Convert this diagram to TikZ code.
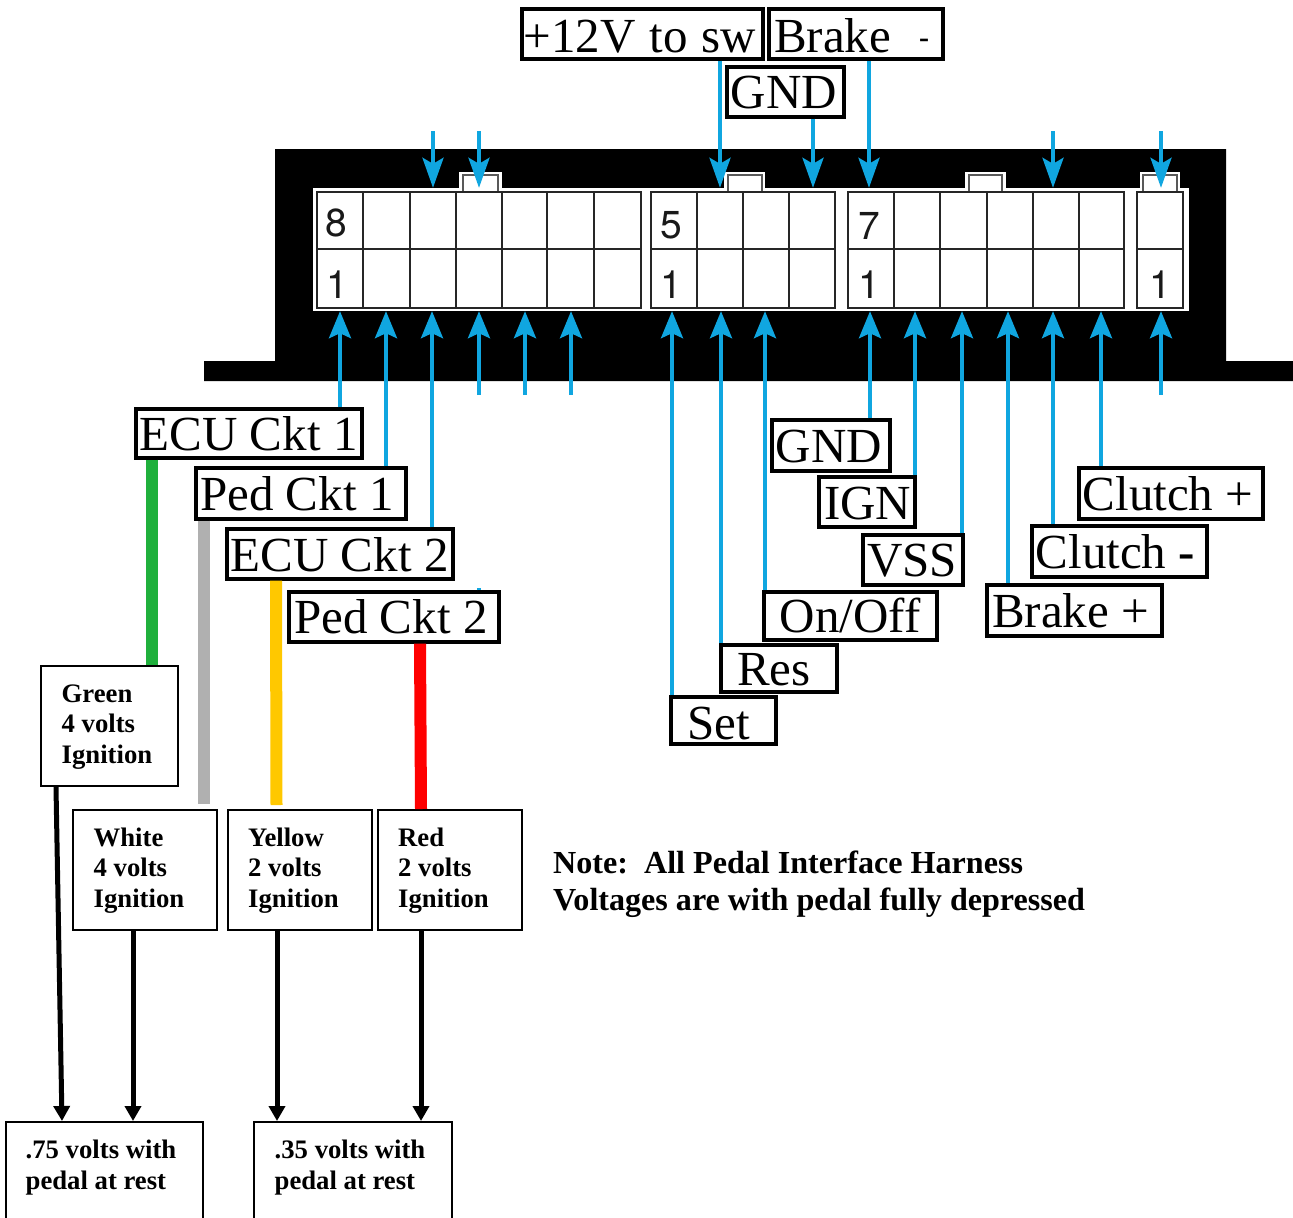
\documentclass[tikz,border=0pt]{standalone}
\usepackage{fontspec}
\setmainfont{Liberation Serif}
\newfontfamily\digitfont{TeX Gyre Heros}
\usetikzlibrary{arrows.meta}
\definecolor{wireblue}{HTML}{10A6E0}
\definecolor{wgreen}{HTML}{1FB03C}
\definecolor{wgray}{HTML}{B0B0B0}
\definecolor{wyellow}{HTML}{FFC800}
\definecolor{wred}{HTML}{FF0000}
\tikzset{
  lblbox/.style={draw=black,fill=white,line width=3.3pt,inner sep=0pt,rectangle},
  lbltext/.style={inner sep=0pt,font=\fontsize{49}{49}\selectfont,text=black},
  infobox/.style={draw=black,fill=white,line width=2pt,inner sep=0pt,rectangle},
  infotext/.style={inner sep=0pt,font=\fontsize{26.7}{30.7}\selectfont\bfseries,text=black},
  notetext/.style={inner sep=0pt,font=\fontsize{32.1}{37}\selectfont\bfseries,text=black},
  digit/.style={inner sep=0pt,font=\digitfont\fontsize{39}{39}\selectfont,text=black!90,anchor=base},
  cell/.style={draw=black!85,line width=1.5pt},
  tabin/.style={draw=black!65,line width=1.5pt,fill=white},
  pinup/.style={draw=wireblue,line width=3.7pt,-{Stealth[length=27pt,width=22pt,inset=5pt]}},
  pindown/.style={draw=wireblue,line width=3.7pt,-{Stealth[length=30pt,width=21pt,inset=6pt]}},
  colorbar/.style={line width=12pt},
  blackarrow/.style={draw=black,line width=5pt,-{Stealth[length=15pt,width=16pt,inset=0pt]}}
}
\newcommand\lbl[8]{%
  \node[lblbox,minimum width={(#4-#2)*1pt},minimum height={(#5-#3)*1pt}] (#1) at ({(#2+#4)/2},{(#3+#5)/2}) {};
  \node[lbltext,anchor=base west] (#1-t) at (#6,#7) {#8};}
\newcommand\info[8]{%
  \node[infobox,minimum width={(#4-#2)*1pt},minimum height={(#5-#3)*1pt}] (#1) at ({(#2+#4)/2},{(#3+#5)/2}) {};
  \node[infotext,anchor=base west] (#1-t) at (#6,#7) {\vtop{#8}};}
\newcommand\tabpiece[4]{%
  \fill[white] (#1,172) rectangle (#2,190);
  \path[tabin] (#3,175) rectangle (#4,192);}
\begin{document}
\begin{tikzpicture}[x=1pt,y=-1pt]
\useasboundingbox (0,0) rectangle (1293,1218);
\clip (0,0) rectangle (1293,1218);
\foreach \v in {56,62,133,152,204,277,340,386,432,433,276,420,421,479,525,571,672,720,721,765,813,869,870,915,962,1008,1053,1101,1161}
  \coordinate (p\v) at (\v,0);
% housing
\fill[black] (275,149) -- (1226,149) -- (1226,361) -- (1293,361) -- (1293,381) -- (204,381) -- (204,361) -- (275,361) -- cycle;
\node[fill=white,inner sep=0pt,minimum width=876pt,minimum height=123pt] (shell) at (751,249.5) {};
\tabpiece{459}{502}{463}{498}
\tabpiece{724}{765}{728}{762}
\tabpiece{965}{1006}{969}{1002}
\tabpiece{1140}{1180}{1143}{1177}
% cells
\foreach \a/\b/\list in {317/641/{363,410,456,502,547,594},651/835/{697,743,789},848/1124/{894,940,987,1033,1079},1137/1183/{}}{
  \draw[cell] (\a,192) rectangle (\b,308);
  \draw[cell] (\a,249) -- (\b,249);
  \foreach \v in \list { \draw[cell] (\v,192) -- (\v,308); }
}
\node[digit] (d8) at (336,236) {8};
\node[digit] (d1a) at (337,298) {1};
\node[digit] (d5) at (671,238) {5};
\node[digit] (d1b) at (671,298) {1};
\node[digit] (d7) at (869,239) {7};
\node[digit] (d1c) at (869,298) {1};
\node[digit] (d1d) at (1160,298) {1};
% labels
\lbl{plus}{522}{9}{763}{59}{523.5}{52}{{\spaceskip=14pt +12V to sw}}
\lbl{brakem}{769}{9}{943}{59}{774}{52}{Brake\hspace{28pt}\raisebox{5pt}{\fontsize{30}{30}\selectfont\bfseries -}}
\lbl{gndt}{727}{67}{844}{117}{730.5}{108}{GND}
\lbl{ecua}{136}{409}{362}{458}{139.5}{450}{ECU Ckt 1}
\lbl{peda}{196}{468}{406}{519}{200}{510}{Ped Ckt 1}
\lbl{ecub}{227}{529}{453}{579}{230.5}{571}{ECU Ckt 2}
\lbl{pedb}{289}{592}{499}{642}{294}{633}{Ped Ckt 2}
\lbl{gndb}{772}{420}{890}{471}{775.5}{462}{GND}
\lbl{ign}{819}{477}{915}{527}{824}{519}{IGN}
\lbl{vss}{863}{535}{963}{585}{867}{576}{VSS}
\lbl{onoff}{764}{592}{937}{640}{779.5}{632}{On/Off}
\lbl{res}{721}{645}{837}{692}{737}{685}{Res}
\lbl{set}{671}{697}{776}{744}{687}{739}{Set}
\lbl{clp}{1079}{468}{1263}{519}{1082.5}{510}{Clutch +}
\lbl{clm}{1032}{526}{1207}{577}{1035.5}{568}{Clutch {\bfseries -}}
\lbl{brp}{987}{585}{1162}{636}{992}{627}{Brake +}
% info boxes
\info{igreen}{41}{666}{178}{786}{61.5}{702}{\hbox{Green}\hbox{4 volts}\hbox{Ignition}}
\info{iwhite}{73}{810}{217}{930}{93.5}{846}{\hbox{White}\hbox{4 volts}\hbox{Ignition}}
\info{iyellow}{228}{810}{372}{930}{248}{846}{\hbox{Yellow}\hbox{2 volts}\hbox{Ignition}}
\info{ired}{378}{810}{522}{930}{398}{846}{\hbox{Red}\hbox{2 volts}\hbox{Ignition}}
\info{resta}{6}{1122}{203}{1240}{25.5}{1158}{\baselineskip=31.5pt\hbox{.75 volts with}\hbox{pedal at rest}}
\info{restb}{254}{1122}{452}{1240}{274.5}{1158}{\baselineskip=31.5pt\hbox{.35 volts with}\hbox{pedal at rest}}
\node[notetext,anchor=base west] (note) at (553,873) {\vtop{\hbox{Note:\ \ All Pedal Interface Harness}\hbox{Voltages are with pedal fully depressed}}};
% free ends
\foreach \v in {433,479,1053,1161} \coordinate (top\v) at (\v,131);
\foreach \v in {479,525,571,1161} \coordinate (bot\v) at (\v,395);
\coordinate (gapa) at (204,803.5);
\coordinate (gapb) at (276.5,805);
\coordinate (gapc) at (421,809);
\coordinate (gapd) at (479,588);
% top arrows
\foreach \v in {433,479,1053,1161} \draw[pindown] (top\v) -- (shell.north -| p\v);
\draw[pindown] (plus.south -| p720) -- (shell.north -| p720);
\draw[pindown] (gndt.south -| p813) -- (shell.north -| p813);
\draw[pindown] (brakem.south -| p869) -- (shell.north -| p869);
% bottom arrows
\foreach \v in {479,525,571,1161} \draw[pinup] (bot\v) -- (shell.south -| p\v);
\draw[pinup] (ecua.north -| p340) -- (shell.south -| p340);
\draw[pinup] (peda.north -| p386) -- (shell.south -| p386);
\draw[pinup] (ecub.north -| p432) -- (shell.south -| p432);
\draw[pinup] (set.north -| p672) -- (shell.south -| p672);
\draw[pinup] (res.north -| p721) -- (shell.south -| p721);
\draw[pinup] (onoff.north -| p765) -- (shell.south -| p765);
\draw[pinup] (gndb.north -| p870) -- (shell.south -| p870);
\draw[pinup] (ign.north -| p915) -- (shell.south -| p915);
\draw[pinup] (vss.north -| p962) -- (shell.south -| p962);
\draw[pinup] (brp.north -| p1008) -- (shell.south -| p1008);
\draw[pinup] (clm.north -| p1053) -- (shell.south -| p1053);
\draw[pinup] (clp.north -| p1101) -- (shell.south -| p1101);
\draw[draw=wireblue,line width=3.7pt] (pedb.north -| p479) -- (gapd);
% colored wires
\draw[colorbar,draw=wgreen] (ecua.south -| p152) -- (igreen.north -| p152);
\draw[colorbar,draw=wgray] (peda.south -| p204) -- (gapa);
\draw[colorbar,draw=wyellow] (ecub.south -| p276) -- (gapb);
\draw[colorbar,draw=wred] (pedb.south -| p420) -- (gapc);
% black arrows
\draw[blackarrow] (igreen.south -| p56) -- (resta.north -| p62);
\draw[blackarrow] (iwhite.south -| p133) -- (resta.north -| p133);
\draw[blackarrow] (iyellow.south -| p277) -- (restb.north -| p277);
\draw[blackarrow] (ired.south -| p421) -- (restb.north -| p421);
\end{tikzpicture}
\end{document}
